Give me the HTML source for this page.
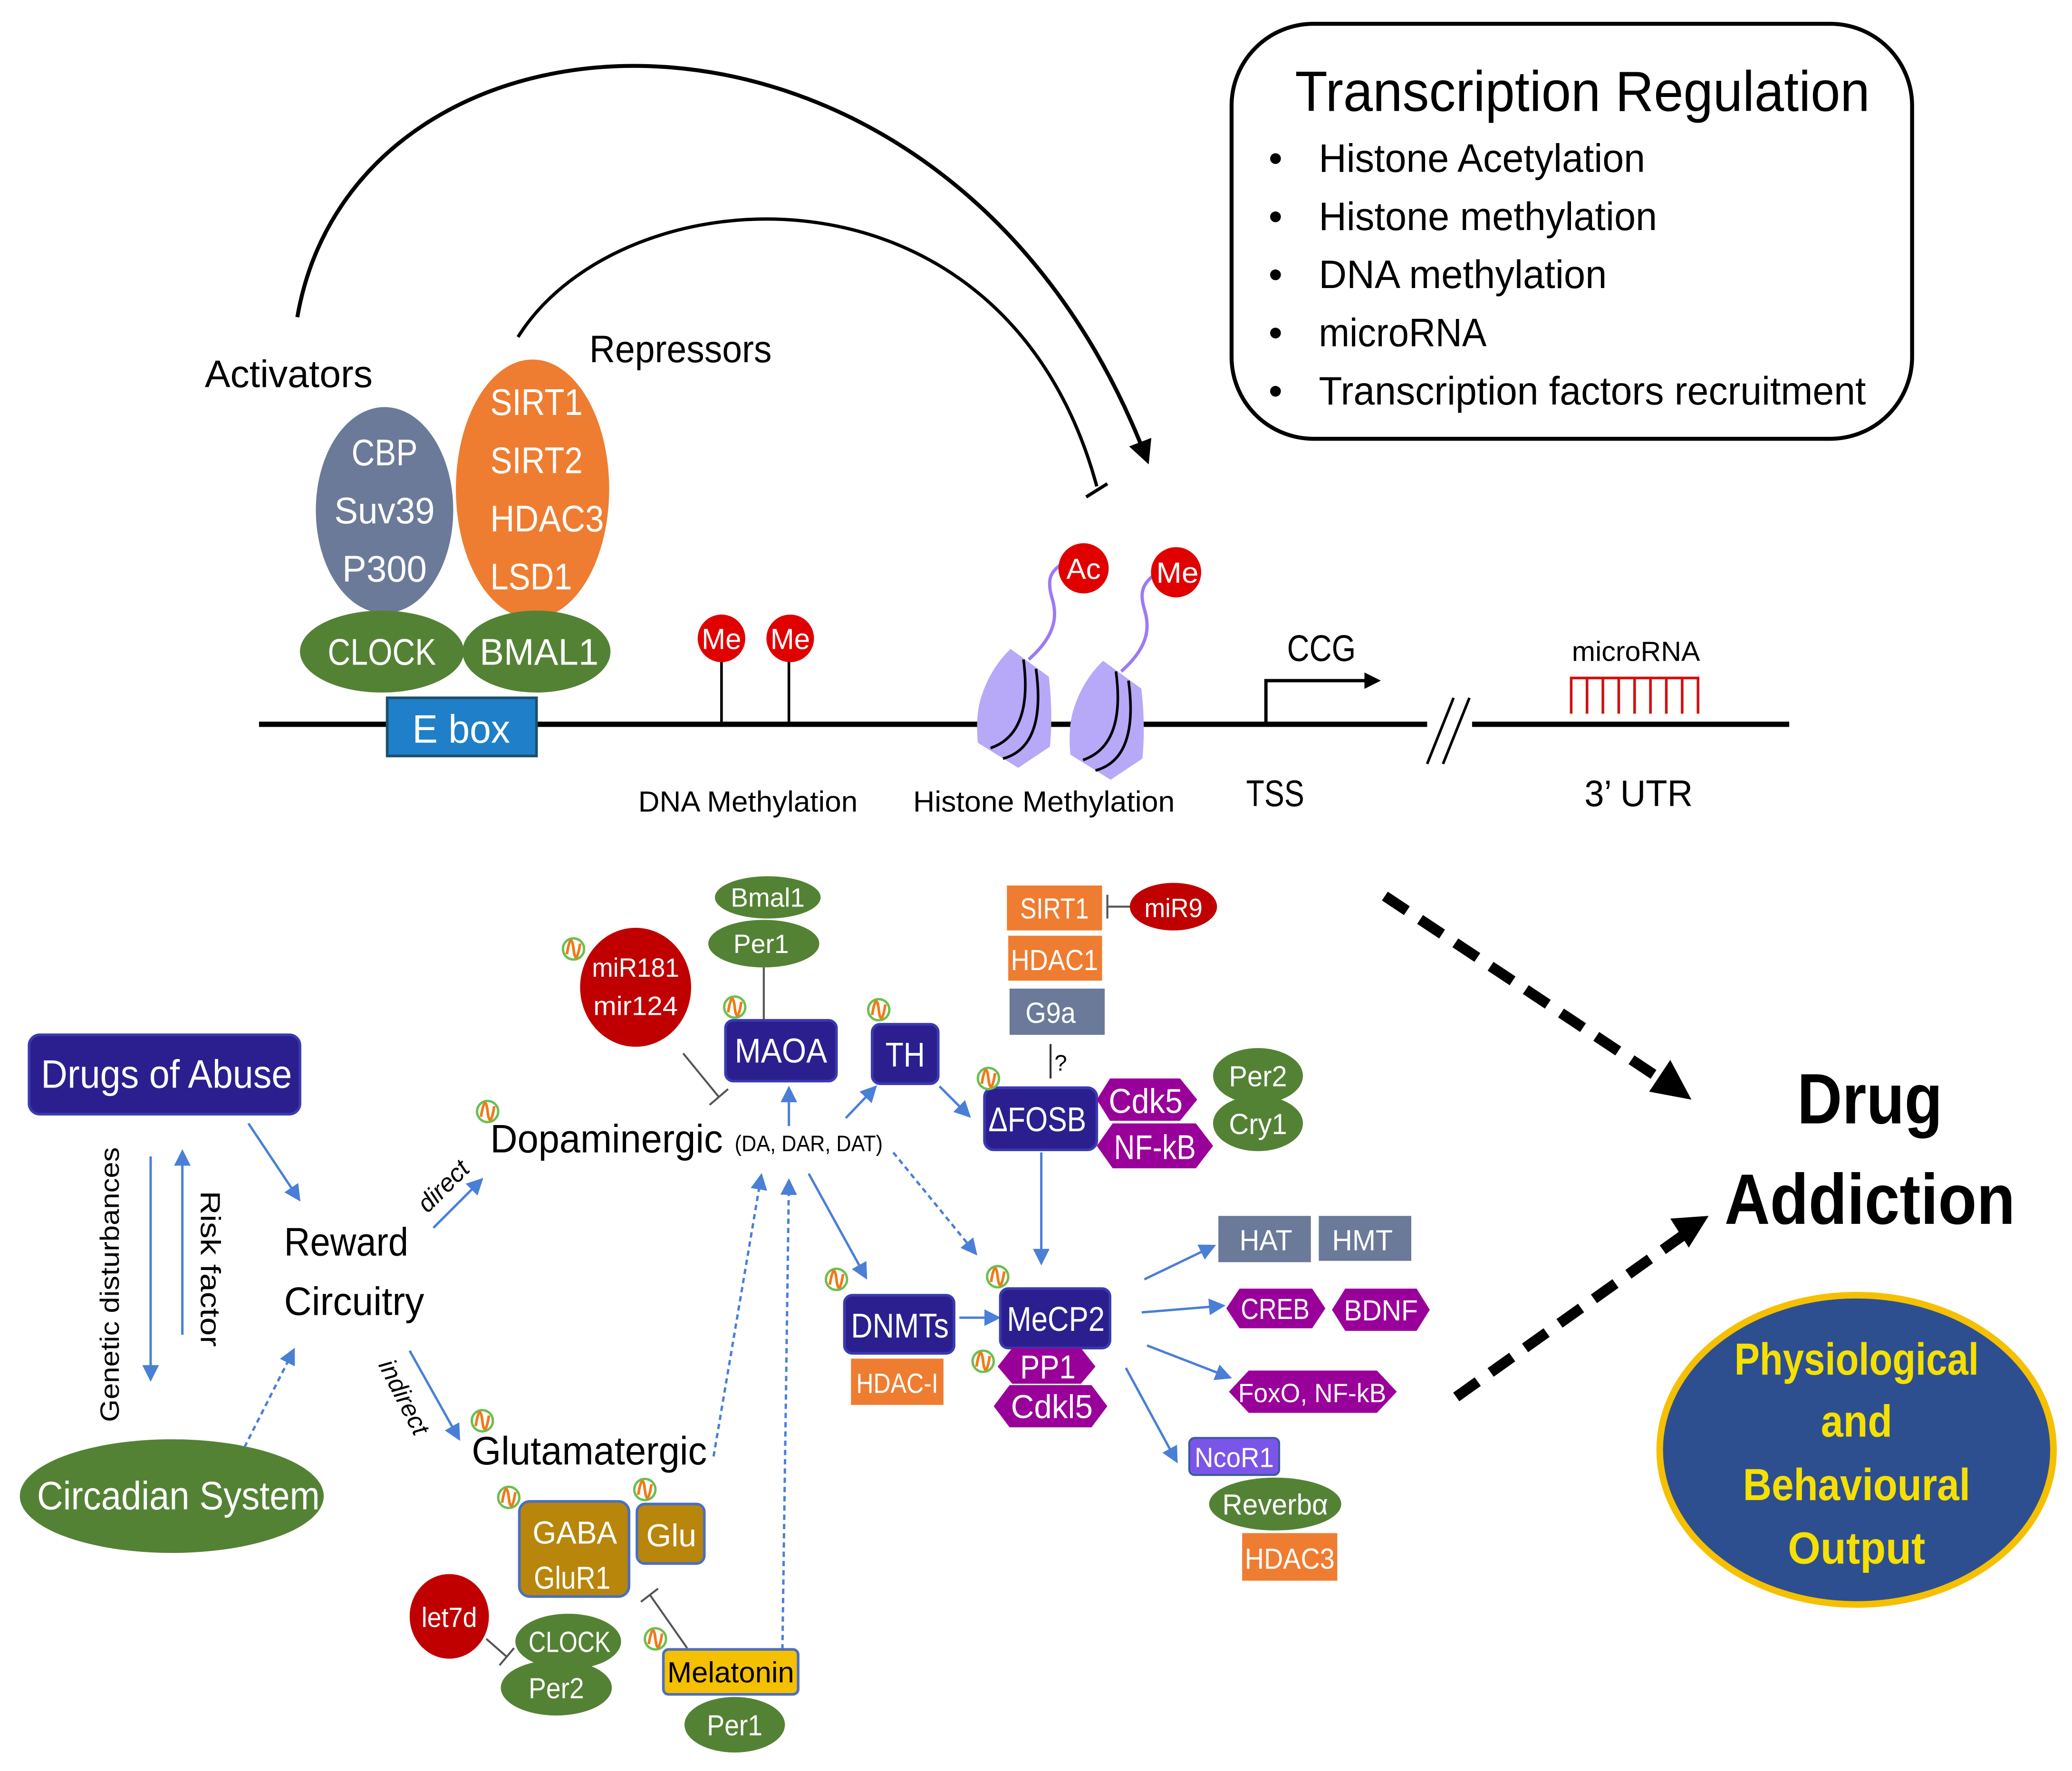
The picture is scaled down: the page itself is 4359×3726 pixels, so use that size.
<!DOCTYPE html>
<html><head><meta charset="utf-8"><style>
html,body{margin:0;padding:0;background:#fff;}
svg{display:block;}
text{font-family:"Liberation Sans",sans-serif;}
</style></head><body>
<svg width="4359" height="3726" viewBox="0 0 1568 1340" preserveAspectRatio="none" xmlns="http://www.w3.org/2000/svg">
<defs>
<marker id="ab" viewBox="0 0 10 10" refX="8" refY="5" markerWidth="6" markerHeight="6" orient="auto"><path d="M0,0L10,5L0,10z" fill="#000"/></marker>
<marker id="abl" viewBox="0 0 10 10" refX="8" refY="5" markerWidth="7" markerHeight="7" orient="auto"><path d="M0,0L10,5L0,10z" fill="#4a7fd6"/></marker>
<marker id="abk" viewBox="0 0 10 10" refX="6" refY="5" markerWidth="5" markerHeight="5" orient="auto"><path d="M0,0L10,5L0,10z" fill="#000"/></marker>
<g id="nic"><circle r="8" fill="#fff" stroke="#6cbf4f" stroke-width="1.8"/><path d="M-5,4 C-3,-9 -1,-9 0,0 C1,9 3,9 5,-4" fill="none" stroke="#f07a1a" stroke-width="2"/></g>
<g id="nuc">
<path d="M764.8,511 L793.7,532 Q797,560 794.5,585 L770.5,601 L740,582 Q738,560 743,546 Q750,525 764.8,511z" fill="#b8a8f8"/>
<path d="M774.5,519 Q782,575 749.6,586" fill="none" stroke="#000" stroke-width="2"/>
<path d="M784,526 Q792,585 759,594" fill="none" stroke="#000" stroke-width="2"/>
</g>
</defs>

<!-- Top arcs -->
<path d="M225,240 C270,-20 720,-40 868,348" fill="none" stroke="#000" stroke-width="3" marker-end="url(#ab)"/>
<path d="M392,255 C470,130 760,110 830,368" fill="none" stroke="#000" stroke-width="2.5"/>
<line x1="822" y1="376" x2="838" y2="366" stroke="#000" stroke-width="2.5"/>
<text x="155" y="293" font-size="29" textLength="127" lengthAdjust="spacingAndGlyphs">Activators</text>
<text x="446" y="274" font-size="29" textLength="138" lengthAdjust="spacingAndGlyphs">Repressors</text>

<!-- Transcription Regulation box -->
<rect x="932" y="18" width="515" height="314" rx="62" fill="#fff" stroke="#000" stroke-width="3"/>
<text x="980" y="84" font-size="43" textLength="435" lengthAdjust="spacingAndGlyphs">Transcription Regulation</text>
<g font-size="30">
<text x="960" y="130">•</text><text x="998" y="130" textLength="247" lengthAdjust="spacingAndGlyphs">Histone Acetylation</text>
<text x="960" y="174">•</text><text x="998" y="174" textLength="256" lengthAdjust="spacingAndGlyphs">Histone methylation</text>
<text x="960" y="218">•</text><text x="998" y="218" textLength="218" lengthAdjust="spacingAndGlyphs">DNA methylation</text>
<text x="960" y="262">•</text><text x="998" y="262" textLength="127" lengthAdjust="spacingAndGlyphs">microRNA</text>
<text x="960" y="306">•</text><text x="998" y="306" textLength="414" lengthAdjust="spacingAndGlyphs">Transcription factors recruitment</text>
</g>

<!-- proteins -->
<ellipse cx="291" cy="386" rx="52" ry="78" fill="#6b7a99"/>
<g font-size="28" text-anchor="middle" fill="#fff">
<text x="291" y="352" textLength="50" lengthAdjust="spacingAndGlyphs">CBP</text><text x="291" y="396" textLength="76" lengthAdjust="spacingAndGlyphs">Suv39</text><text x="291" y="440" textLength="64" lengthAdjust="spacingAndGlyphs">P300</text></g>
<ellipse cx="403" cy="370" rx="58" ry="98" fill="#ee7d31"/>
<g font-size="28" text-anchor="middle" fill="#fff">
<text x="406" y="314" textLength="70" lengthAdjust="spacingAndGlyphs">SIRT1</text><text x="406" y="358" textLength="70" lengthAdjust="spacingAndGlyphs">SIRT2</text><text x="414" y="402" textLength="86" lengthAdjust="spacingAndGlyphs">HDAC3</text><text x="402" y="446" textLength="62" lengthAdjust="spacingAndGlyphs">LSD1</text></g>
<ellipse cx="289" cy="493" rx="62" ry="31" fill="#548235"/>
<ellipse cx="406" cy="493" rx="56" ry="31" fill="#548235"/>
<g font-size="28" text-anchor="middle" fill="#fff"><text x="289" y="503" textLength="82" lengthAdjust="spacingAndGlyphs">CLOCK</text><text x="408" y="503" textLength="90" lengthAdjust="spacingAndGlyphs">BMAL1</text></g>

<line x1="196" y1="548" x2="1354" y2="548" stroke="#000" stroke-width="4"/>
<rect x="293" y="528" width="113" height="44" fill="#1f7fc8" stroke="#1a4f6a" stroke-width="2"/>
<text x="349" y="562" font-size="30" text-anchor="middle" fill="#fff" textLength="74" lengthAdjust="spacingAndGlyphs">E box</text>

<!-- DNA Me -->
<line x1="546" y1="500" x2="546" y2="548" stroke="#000" stroke-width="2"/>
<line x1="597" y1="500" x2="597" y2="548" stroke="#000" stroke-width="2"/>
<circle cx="546" cy="483" r="18" fill="#e00000"/><circle cx="598" cy="483" r="18" fill="#e00000"/>
<g font-size="22" text-anchor="middle" fill="#fff"><text x="546" y="491" textLength="30" lengthAdjust="spacingAndGlyphs">Me</text><text x="598" y="491" textLength="30" lengthAdjust="spacingAndGlyphs">Me</text></g>

<!-- nucleosomes -->
<g transform="translate(0,-20)">
<use href="#nuc"/>
<use href="#nuc" x="70" y="9"/>
<path d="M778.5,519 C800,500 800,485 796,472 C792,458 795,452 805,446" fill="none" stroke="#9b7af5" stroke-width="2.5"/>
<path d="M848.5,528 C870,509 870,494 866,481 C862,467 865,461 876,453" fill="none" stroke="#9b7af5" stroke-width="2.5"/>
</g>
<circle cx="820" cy="430" r="19" fill="#e00000"/><circle cx="890" cy="433" r="19" fill="#e00000"/>
<g font-size="22" text-anchor="middle" fill="#fff"><text x="820" y="438" textLength="26" lengthAdjust="spacingAndGlyphs">Ac</text><text x="891" y="441" textLength="32" lengthAdjust="spacingAndGlyphs">Me</text></g>

<!-- TSS arrow -->
<path d="M958,548 L958,515 L1040,515" fill="none" stroke="#000" stroke-width="2.5" marker-end="url(#abk)"/>
<text x="1000" y="500" font-size="28" text-anchor="middle" textLength="52" lengthAdjust="spacingAndGlyphs">CCG</text>
<rect x="1080" y="543" width="34" height="10" fill="#fff"/>
<line x1="1080" y1="578" x2="1100" y2="528" stroke="#000" stroke-width="2"/>
<line x1="1092" y1="578" x2="1112" y2="528" stroke="#000" stroke-width="2"/>
<text x="1238" y="500" font-size="21" text-anchor="middle" textLength="97" lengthAdjust="spacingAndGlyphs">microRNA</text>
<g stroke="#d01010" stroke-width="2">
<line x1="1188" y1="513" x2="1286" y2="513"/>
<line x1="1189" y1="513" x2="1189" y2="540"/><line x1="1201" y1="513" x2="1201" y2="540"/><line x1="1213" y1="513" x2="1213" y2="540"/><line x1="1225" y1="513" x2="1225" y2="540"/><line x1="1237" y1="513" x2="1237" y2="540"/><line x1="1249" y1="513" x2="1249" y2="540"/><line x1="1261" y1="513" x2="1261" y2="540"/><line x1="1273" y1="513" x2="1273" y2="540"/><line x1="1285" y1="513" x2="1285" y2="540"/>
</g>
<g font-size="22" text-anchor="middle"><text x="566" y="614" textLength="166" lengthAdjust="spacingAndGlyphs">DNA Methylation</text><text x="790" y="614" textLength="198" lengthAdjust="spacingAndGlyphs">Histone Methylation</text></g>
<g font-size="28" text-anchor="middle"><text x="965" y="610" textLength="44" lengthAdjust="spacingAndGlyphs">TSS</text><text x="1240" y="610" textLength="82" lengthAdjust="spacingAndGlyphs">3’ UTR</text></g>

<!-- Drug addiction -->
<line x1="1048" y1="678" x2="1262" y2="820" stroke="#000" stroke-width="8" stroke-dasharray="20,12"/>
<path d="M1280,832 L1248,826 L1264,802z" fill="#000"/>
<line x1="1102" y1="1057" x2="1276" y2="933" stroke="#000" stroke-width="8" stroke-dasharray="20,12"/>
<path d="M1293,920 L1264,922 L1278,944z" fill="#000"/>
<text x="1415" y="850" font-size="54" font-weight="bold" text-anchor="middle" textLength="110" lengthAdjust="spacingAndGlyphs">Drug</text>
<text x="1415" y="926" font-size="54" font-weight="bold" text-anchor="middle" textLength="220" lengthAdjust="spacingAndGlyphs">Addiction</text>
<ellipse cx="1405" cy="1097" rx="149" ry="117" fill="#2e4f8f" stroke="#f5c000" stroke-width="5"/>
<g font-size="34" font-weight="bold" fill="#f5e000" text-anchor="middle">
<text x="1405" y="1040" textLength="185" lengthAdjust="spacingAndGlyphs">Physiological</text><text x="1405" y="1087" textLength="54" lengthAdjust="spacingAndGlyphs">and</text><text x="1405" y="1135" textLength="172" lengthAdjust="spacingAndGlyphs">Behavioural</text><text x="1405" y="1183" textLength="104" lengthAdjust="spacingAndGlyphs">Output</text></g>

<!-- left side -->
<rect x="22" y="783" width="205" height="60" rx="8" fill="#2b1f8f" stroke="#3a3ab0" stroke-width="2"/>
<text x="126" y="823" font-size="30" fill="#fff" text-anchor="middle" textLength="190" lengthAdjust="spacingAndGlyphs">Drugs of Abuse</text>
<ellipse cx="130" cy="1132" rx="115" ry="43" fill="#548235"/>
<text x="135" y="1142" font-size="30" fill="#fff" text-anchor="middle" textLength="214" lengthAdjust="spacingAndGlyphs">Circadian System</text>
<text transform="translate(90,972) rotate(-90)" font-size="20" text-anchor="middle" textLength="208" lengthAdjust="spacingAndGlyphs">Genetic disturbances</text>
<text transform="translate(152,960) rotate(90)" font-size="21" text-anchor="middle" textLength="118" lengthAdjust="spacingAndGlyphs">Risk factor</text>
<g stroke="#4a7fd6" stroke-width="1.8" fill="none">
<line x1="114" y1="875" x2="114" y2="1043" marker-end="url(#abl)"/>
<line x1="138" y1="1010" x2="138" y2="872" marker-end="url(#abl)"/>
<line x1="188" y1="850" x2="226" y2="907" marker-end="url(#abl)"/>
<line x1="185" y1="1095" x2="222" y2="1022" stroke-dasharray="4,3" marker-end="url(#abl)"/>
<line x1="328" y1="929" x2="364" y2="893" marker-end="url(#abl)"/>
<line x1="310" y1="1022" x2="347" y2="1088" marker-end="url(#abl)"/>
<line x1="597" y1="852" x2="597" y2="824" marker-end="url(#abl)"/>
<line x1="640" y1="846" x2="662" y2="823" marker-end="url(#abl)"/>
<line x1="711" y1="822" x2="733" y2="844" marker-end="url(#abl)"/>
<line x1="612" y1="888" x2="655" y2="966" marker-end="url(#abl)"/>
<line x1="676" y1="872" x2="738" y2="948" stroke-dasharray="4,3" marker-end="url(#abl)"/>
<line x1="788" y1="872" x2="788" y2="955" marker-end="url(#abl)"/>
<line x1="726" y1="997" x2="755" y2="997" marker-end="url(#abl)"/>
<line x1="866" y1="968" x2="918" y2="943" marker-end="url(#abl)"/>
<line x1="864" y1="993" x2="925" y2="988" marker-end="url(#abl)"/>
<line x1="868" y1="1018" x2="930" y2="1042" marker-end="url(#abl)"/>
<line x1="852" y1="1035" x2="890" y2="1105" marker-end="url(#abl)"/>
<line x1="540" y1="1102" x2="576" y2="890" stroke-dasharray="4,3" marker-end="url(#abl)"/>
<line x1="592" y1="1255" x2="597" y2="894" stroke-dasharray="4,3" marker-end="url(#abl)"/>
</g>
<text x="215" y="950" font-size="30" textLength="94" lengthAdjust="spacingAndGlyphs">Reward</text>
<text x="215" y="995" font-size="30" textLength="106" lengthAdjust="spacingAndGlyphs">Circuitry</text>
<text transform="translate(340,902) rotate(-45)" font-size="19" font-style="italic" text-anchor="middle">direct</text>
<text transform="translate(300,1060) rotate(63)" font-size="19" font-style="italic" text-anchor="middle">indirect</text>
<text x="371" y="872" font-size="30" textLength="176" lengthAdjust="spacingAndGlyphs">Dopaminergic</text>
<text x="556" y="871" font-size="17" textLength="112" lengthAdjust="spacingAndGlyphs">(DA, DAR, DAT)</text>
<text x="357" y="1108" font-size="30" textLength="178" lengthAdjust="spacingAndGlyphs">Glutamatergic</text>

<!-- miR181 -->
<ellipse cx="481" cy="747" rx="42" ry="45" fill="#c00000"/>
<g font-size="20" fill="#fff" text-anchor="middle"><text x="481" y="739" textLength="66" lengthAdjust="spacingAndGlyphs">miR181</text><text x="481" y="768" textLength="64" lengthAdjust="spacingAndGlyphs">mir124</text></g>
<line x1="517" y1="797" x2="544" y2="830" stroke="#555" stroke-width="1.5"/>
<line x1="537" y1="836" x2="551" y2="824" stroke="#555" stroke-width="1.5"/>

<!-- MAOA etc -->
<ellipse cx="581" cy="679" rx="40" ry="16" fill="#548235"/>
<ellipse cx="578" cy="714" rx="42" ry="18" fill="#548235"/>
<g font-size="20" fill="#fff" text-anchor="middle"><text x="581" y="686" textLength="56" lengthAdjust="spacingAndGlyphs">Bmal1</text><text x="576" y="721" textLength="42" lengthAdjust="spacingAndGlyphs">Per1</text></g>
<line x1="578" y1="732" x2="578" y2="772" stroke="#555" stroke-width="1.5"/>
<rect x="549" y="772" width="84" height="46" rx="6" fill="#2b1f8f" stroke="#3a3ab0" stroke-width="2"/>
<text x="591" y="804" font-size="26" fill="#fff" text-anchor="middle" textLength="70" lengthAdjust="spacingAndGlyphs">MAOA</text>
<rect x="660" y="775" width="50" height="45" rx="6" fill="#2b1f8f" stroke="#3a3ab0" stroke-width="2"/>
<text x="685" y="807" font-size="26" fill="#fff" text-anchor="middle" textLength="30" lengthAdjust="spacingAndGlyphs">TH</text>

<rect x="762" y="670" width="72" height="34" fill="#ee7d31"/>
<rect x="763" y="708" width="71" height="34" fill="#ee7d31"/>
<rect x="764" y="748" width="72" height="35" fill="#6b7a99"/>
<g font-size="22" fill="#fff" text-anchor="middle"><text x="798" y="695" textLength="52" lengthAdjust="spacingAndGlyphs">SIRT1</text><text x="798" y="734" textLength="66" lengthAdjust="spacingAndGlyphs">HDAC1</text><text x="795" y="774" textLength="38" lengthAdjust="spacingAndGlyphs">G9a</text></g>
<line x1="838" y1="686" x2="858" y2="686" stroke="#555" stroke-width="1.5"/>
<line x1="838" y1="677" x2="838" y2="695" stroke="#555" stroke-width="1.5"/>
<ellipse cx="888" cy="686" rx="33" ry="18" fill="#c00000"/>
<text x="888" y="694" font-size="20" fill="#fff" text-anchor="middle" textLength="44" lengthAdjust="spacingAndGlyphs">miR9</text>
<line x1="795" y1="790" x2="795" y2="816" stroke="#333" stroke-width="1.5"/>
<text x="798" y="810" font-size="17">?</text>

<rect x="745" y="823" width="85" height="47" rx="7" fill="#2b1f8f" stroke="#3a3ab0" stroke-width="2"/>
<text x="785" y="856" font-size="26" fill="#fff" text-anchor="middle" textLength="74" lengthAdjust="spacingAndGlyphs">ΔFOSB</text>
<path d="M840,816 L893,816 L906,832 L893,848 L840,848 L830,832z" fill="#990099"/>
<path d="M842,850 L905,850 L918,867 L905,884 L842,884 L830,867z" fill="#990099"/>
<g font-size="26" fill="#fff" text-anchor="middle"><text x="867" y="842" textLength="56" lengthAdjust="spacingAndGlyphs">Cdk5</text><text x="874" y="877" textLength="62" lengthAdjust="spacingAndGlyphs">NF-kB</text></g>
<ellipse cx="952" cy="814" rx="34" ry="21" fill="#548235"/>
<ellipse cx="952" cy="850" rx="34" ry="21" fill="#548235"/>
<g font-size="22" fill="#fff" text-anchor="middle"><text x="952" y="822" textLength="44" lengthAdjust="spacingAndGlyphs">Per2</text><text x="952" y="858" textLength="44" lengthAdjust="spacingAndGlyphs">Cry1</text></g>

<rect x="639" y="980" width="83" height="44" rx="6" fill="#2b1f8f" stroke="#3a3ab0" stroke-width="2"/>
<text x="681" y="1012" font-size="26" fill="#fff" text-anchor="middle" textLength="74" lengthAdjust="spacingAndGlyphs">DNMTs</text>
<rect x="644" y="1028" width="70" height="35" fill="#ee7d31"/>
<text x="679" y="1054" font-size="21" fill="#fff" text-anchor="middle" textLength="62" lengthAdjust="spacingAndGlyphs">HDAC-I</text>
<rect x="757" y="975" width="83" height="45" rx="6" fill="#2b1f8f" stroke="#3a3ab0" stroke-width="2"/>
<text x="799" y="1007" font-size="26" fill="#fff" text-anchor="middle" textLength="74" lengthAdjust="spacingAndGlyphs">MeCP2</text>
<path d="M766,1020 L818,1020 L829,1034 L818,1047 L766,1047 L755,1034z" fill="#990099"/>
<path d="M764,1048 L826,1048 L838,1064 L826,1080 L764,1080 L752,1064z" fill="#990099"/>
<g font-size="25" fill="#fff" text-anchor="middle"><text x="793" y="1043" textLength="42" lengthAdjust="spacingAndGlyphs">PP1</text><text x="796" y="1073" textLength="62" lengthAdjust="spacingAndGlyphs">Cdkl5</text></g>

<rect x="922" y="920" width="70" height="35" fill="#6b7a99"/>
<rect x="998" y="920" width="70" height="34" fill="#6b7a99"/>
<g font-size="22" fill="#fff" text-anchor="middle"><text x="958" y="946" textLength="40" lengthAdjust="spacingAndGlyphs">HAT</text><text x="1031" y="946" textLength="46" lengthAdjust="spacingAndGlyphs">HMT</text></g>
<path d="M938,975 L993,975 L1003,990 L993,1005 L938,1005 L928,990z" fill="#990099"/>
<path d="M1018,975 L1072,975 L1082,991 L1072,1007 L1018,1007 L1008,991z" fill="#990099"/>
<g font-size="22" fill="#fff" text-anchor="middle"><text x="965" y="998" textLength="52" lengthAdjust="spacingAndGlyphs">CREB</text><text x="1045" y="999" textLength="56" lengthAdjust="spacingAndGlyphs">BDNF</text></g>
<path d="M945,1037 L1042,1037 L1057,1053 L1042,1069 L945,1069 L930,1053z" fill="#990099"/>
<text x="993" y="1061" font-size="20" fill="#fff" text-anchor="middle" textLength="112" lengthAdjust="spacingAndGlyphs">FoxO, NF-kB</text>
<rect x="900" y="1088" width="68" height="28" rx="4" fill="#7b55e8" stroke="#3a5aa0" stroke-width="1.5"/>
<text x="934" y="1110" font-size="21" fill="#fff" text-anchor="middle" textLength="60" lengthAdjust="spacingAndGlyphs">NcoR1</text>
<ellipse cx="965" cy="1138" rx="50" ry="20" fill="#548235"/>
<text x="965" y="1146" font-size="22" fill="#fff" text-anchor="middle" textLength="80" lengthAdjust="spacingAndGlyphs">Reverbα</text>
<rect x="940" y="1160" width="72" height="36" fill="#ee7d31"/>
<text x="976" y="1187" font-size="22" fill="#fff" text-anchor="middle" textLength="68" lengthAdjust="spacingAndGlyphs">HDAC3</text>

<!-- Glutamatergic cluster -->
<rect x="393" y="1136" width="83" height="72" rx="8" fill="#b8860b" stroke="#4a6fc0" stroke-width="2"/>
<g font-size="24" fill="#fff" text-anchor="middle"><text x="435" y="1168" textLength="64" lengthAdjust="spacingAndGlyphs">GABA</text><text x="433" y="1202" textLength="58" lengthAdjust="spacingAndGlyphs">GluR1</text></g>
<rect x="482" y="1138" width="51" height="45" rx="6" fill="#b8860b" stroke="#4a6fc0" stroke-width="2"/>
<text x="508" y="1170" font-size="24" fill="#fff" text-anchor="middle" textLength="38" lengthAdjust="spacingAndGlyphs">Glu</text>
<ellipse cx="340" cy="1223" rx="30" ry="32" fill="#c00000"/>
<text x="340" y="1231" font-size="21" fill="#fff" text-anchor="middle" textLength="42" lengthAdjust="spacingAndGlyphs">let7d</text>
<line x1="368" y1="1240" x2="384" y2="1254" stroke="#555" stroke-width="1.5"/>
<line x1="378" y1="1260" x2="389" y2="1247" stroke="#555" stroke-width="1.5"/>
<ellipse cx="430" cy="1242" rx="40" ry="21" fill="#548235"/>
<ellipse cx="421" cy="1277" rx="42" ry="21" fill="#548235"/>
<g font-size="22" fill="#fff" text-anchor="middle"><text x="431" y="1250" textLength="62" lengthAdjust="spacingAndGlyphs">CLOCK</text><text x="421" y="1285" textLength="42" lengthAdjust="spacingAndGlyphs">Per2</text></g>
<rect x="502" y="1248" width="102" height="34" rx="4" fill="#f5c000" stroke="#4a6fc0" stroke-width="2"/>
<text x="553" y="1273" font-size="22" text-anchor="middle" textLength="96" lengthAdjust="spacingAndGlyphs">Melatonin</text>
<ellipse cx="556" cy="1305" rx="38" ry="21" fill="#548235"/>
<text x="556" y="1313" font-size="22" fill="#fff" text-anchor="middle" textLength="42" lengthAdjust="spacingAndGlyphs">Per1</text>
<line x1="520" y1="1247" x2="492" y2="1207" stroke="#555" stroke-width="1.5"/>
<line x1="485" y1="1212" x2="498" y2="1202" stroke="#555" stroke-width="1.5"/>

<!-- N icons -->
<use href="#nic" x="434" y="718"/><use href="#nic" x="556" y="762"/><use href="#nic" x="665" y="764"/>
<use href="#nic" x="748" y="816"/><use href="#nic" x="369" y="841"/><use href="#nic" x="365" y="1075"/>
<use href="#nic" x="385" y="1133"/><use href="#nic" x="488" y="1127"/><use href="#nic" x="633" y="968"/>
<use href="#nic" x="755" y="966"/><use href="#nic" x="744" y="1030"/><use href="#nic" x="496" y="1240"/>
</svg>
</body></html>
